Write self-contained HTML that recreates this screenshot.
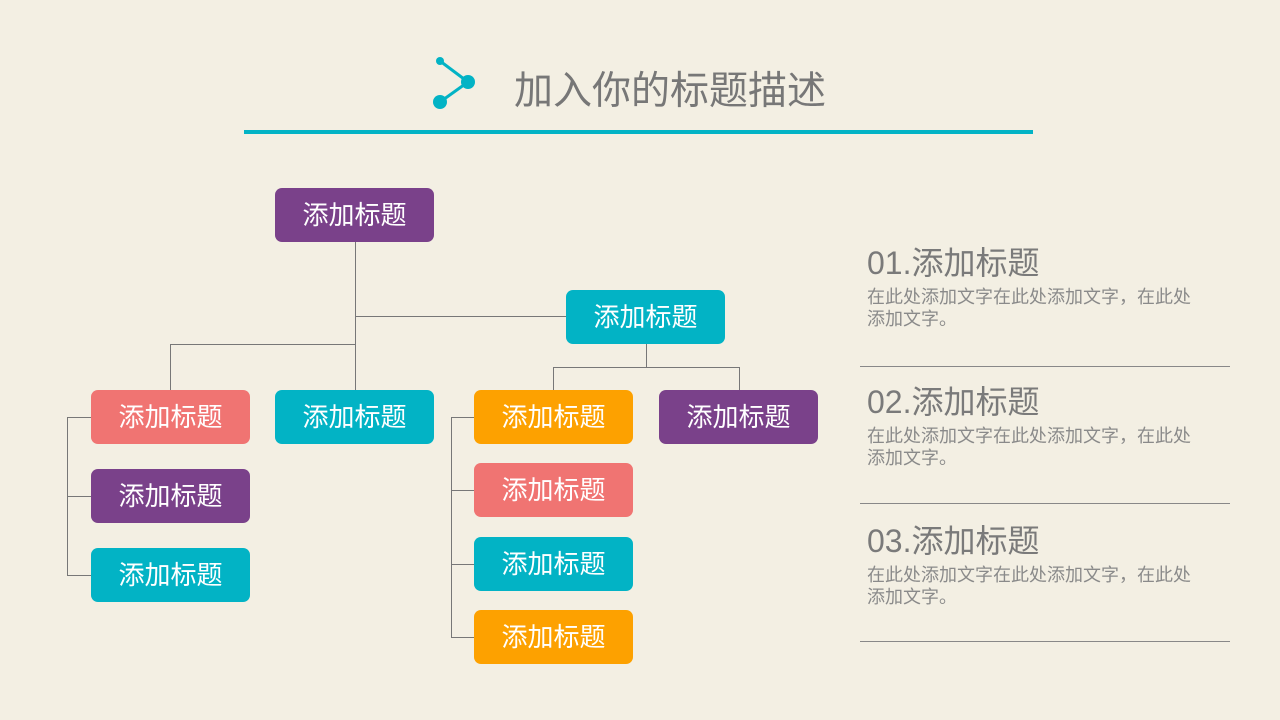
<!DOCTYPE html>
<html><head><meta charset="utf-8"><style>
body{margin:0;width:1280px;height:720px;overflow:hidden;background:#f3efe3;font-family:"Liberation Sans","Noto Sans CJK SC",sans-serif;position:relative}
.b{position:absolute;width:159px;height:54px;border-radius:7px;color:#fff;font-size:26px;line-height:54px;text-align:center}
.p{background:#7a418a}.c{background:#02b3c5}.r{background:#f07472}.o{background:#fda100}
.l{position:absolute;background:#777}
.h{position:absolute;left:867px;font-size:32px;color:#7a7a7a}
.t{position:absolute;left:867px;font-size:18px;line-height:22px;color:#8a8a8a;width:370px;white-space:nowrap}
.s{position:absolute;left:860px;width:370px;height:1px;background:#888}
</style></head><body>
<svg style="position:absolute;left:430px;top:52px" width="50" height="60"><line x1="10" y1="9" x2="38" y2="30" stroke="#02b3c5" stroke-width="3"/><line x1="38" y1="30" x2="10" y2="50" stroke="#02b3c5" stroke-width="3"/><circle cx="10" cy="9" r="4" fill="#02b3c5"/><circle cx="38" cy="30" r="7" fill="#02b3c5"/><circle cx="10" cy="50" r="7" fill="#02b3c5"/></svg>
<div style="position:absolute;left:514px;top:60px;font-size:39px;color:#777">加入你的标题描述</div>
<div style="position:absolute;left:244px;top:130px;width:789px;height:4px;background:#02b3c5"></div>

<div class="l" style="left:355px;top:242px;width:1px;height:148px"></div>
<div class="l" style="left:355px;top:316px;width:211px;height:1px"></div>
<div class="l" style="left:170px;top:344px;width:185px;height:1px"></div>
<div class="l" style="left:170px;top:344px;width:1px;height:46px"></div>
<div class="l" style="left:646px;top:344px;width:1px;height:23px"></div>
<div class="l" style="left:553px;top:367px;width:187px;height:1px"></div>
<div class="l" style="left:553px;top:367px;width:1px;height:23px"></div>
<div class="l" style="left:739px;top:367px;width:1px;height:23px"></div>
<div class="l" style="left:67px;top:417px;width:1px;height:158px"></div>
<div class="l" style="left:67px;top:417px;width:24px;height:1px"></div>
<div class="l" style="left:67px;top:496px;width:24px;height:1px"></div>
<div class="l" style="left:67px;top:575px;width:24px;height:1px"></div>
<div class="l" style="left:451px;top:417px;width:1px;height:220px"></div>
<div class="l" style="left:451px;top:417px;width:23px;height:1px"></div>
<div class="l" style="left:451px;top:490px;width:23px;height:1px"></div>
<div class="l" style="left:451px;top:564px;width:23px;height:1px"></div>
<div class="l" style="left:451px;top:637px;width:23px;height:1px"></div>

<div class="b p" style="left:275px;top:188px">添加标题</div>
<div class="b c" style="left:566px;top:290px">添加标题</div>
<div class="b r" style="left:91px;top:390px">添加标题</div>
<div class="b c" style="left:275px;top:390px">添加标题</div>
<div class="b o" style="left:474px;top:390px">添加标题</div>
<div class="b p" style="left:659px;top:390px">添加标题</div>
<div class="b p" style="left:91px;top:469px">添加标题</div>
<div class="b c" style="left:91px;top:548px">添加标题</div>
<div class="b r" style="left:474px;top:463px">添加标题</div>
<div class="b c" style="left:474px;top:537px">添加标题</div>
<div class="b o" style="left:474px;top:610px">添加标题</div>

<div class="h" style="top:238px">01.添加标题</div>
<div class="t" style="top:286px">在此处添加文字在此处添加文字，在此处<br>添加文字。</div>
<div class="s" style="top:366px"></div>
<div class="h" style="top:377px">02.添加标题</div>
<div class="t" style="top:425px">在此处添加文字在此处添加文字，在此处<br>添加文字。</div>
<div class="s" style="top:503px"></div>
<div class="h" style="top:516px">03.添加标题</div>
<div class="t" style="top:564px">在此处添加文字在此处添加文字，在此处<br>添加文字。</div>
<div class="s" style="top:641px"></div>
</body></html>
